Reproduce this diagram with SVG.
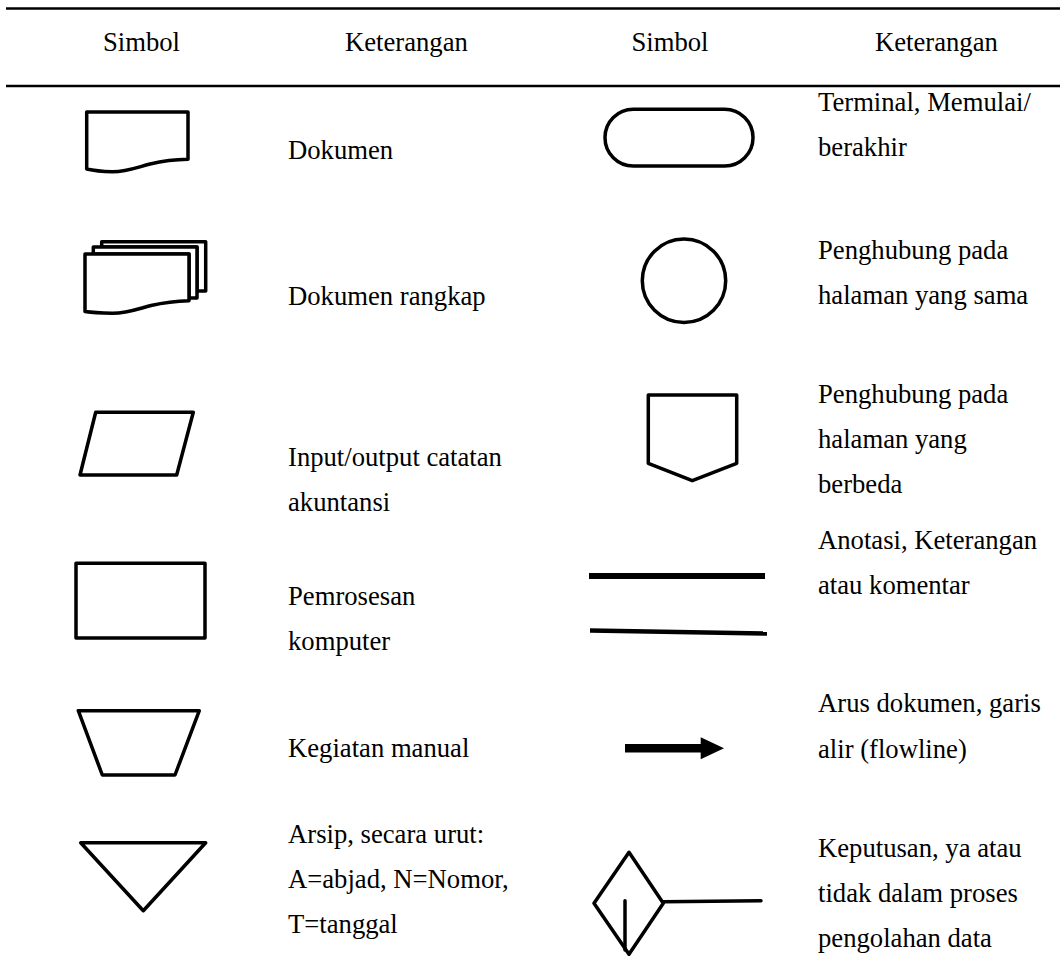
<svg xmlns="http://www.w3.org/2000/svg" width="1060" height="956" viewBox="0 0 1060 956">
<style>
text{font-family:"Liberation Serif","Times New Roman","DejaVu Serif",serif;font-size:26.67px;fill:#000}
.s{fill:#fff;stroke:#000;stroke-width:3.5;stroke-linejoin:round;stroke-linecap:round}
.l{fill:none;stroke:#000;stroke-width:3.5;stroke-linecap:round}
.rule{stroke:#000;stroke-width:2.5}
</style>
<rect width="1060" height="956" fill="#fff"/>
<g id="header" font-family="Liberation Serif, DejaVu Serif, serif">
<line class="rule" x1="6" y1="8.5" x2="1060" y2="8.5"/>
<line class="rule" x1="6" y1="86" x2="1060" y2="86"/>
<text x="141.5" y="50.5" text-anchor="middle">Simbol</text>
<text x="345" y="50.5">Keterangan</text>
<text x="670" y="50.5" text-anchor="middle">Simbol</text>
<text x="875" y="50.5">Keterangan</text>
</g>
<g id="dokumen">
<path class="s" d="M86.7,112 H188 V159.3 C175,159.5 165,160.5 150,164 C135,168 125,172 112,171.7 C100,171.5 93,170.5 86.7,169 Z"/>
<text x="288" y="159">Dokumen</text>
</g>
<g id="dokumen-rangkap">
<path class="s" d="M101.7,247 V241.7 H205.7 V291 H197 V247 Z"/>
<path class="s" d="M93.3,254 V247 H197 V298 H189 V254 Z"/>
<path class="s" d="M85,254 H189 V300.7 C176,301 166,302 151,305.5 C136,309.5 126,313.5 112,313.3 C100,313 92,312.5 85,311.5 Z"/>
<text x="288" y="305">Dokumen rangkap</text>
</g>
<g id="input-output">
<polygon class="s" points="95.7,412.3 193.3,412.3 176.7,475 80,475"/>
<text x="288" y="466">Input/output catatan</text>
<text x="288" y="511">akuntansi</text>
</g>
<g id="pemrosesan">
<rect class="s" x="76" y="563.3" width="129" height="74.7"/>
<text x="288" y="605">Pemrosesan</text>
<text x="288" y="650">komputer</text>
</g>
<g id="manual">
<polygon class="s" points="78.3,710.7 199.3,710.7 175,775 102.3,775"/>
<text x="288" y="757">Kegiatan manual</text>
</g>
<g id="arsip">
<polygon class="s" points="80.7,842.7 205.7,842.7 143.3,910.7"/>
<text x="288" y="843">Arsip, secara urut:</text>
<text x="288" y="888">A=abjad, N=Nomor,</text>
<text x="288" y="933">T=tanggal</text>
</g>
<g id="terminal">
<rect class="s" x="605" y="109.3" width="148" height="56.7" rx="28.3"/>
<text x="818" y="111">Terminal, Memulai/</text>
<text x="818" y="156">berakhir</text>
</g>
<g id="penghubung-sama">
<circle class="s" cx="684" cy="280.7" r="41.7"/>
<text x="818" y="259">Penghubung pada</text>
<text x="818" y="304">halaman yang sama</text>
</g>
<g id="penghubung-beda">
<polygon class="s" points="648.3,395 736.7,395 736.7,463.3 692.3,480.7 648.3,463.3"/>
<text x="818" y="403">Penghubung pada</text>
<text x="818" y="448">halaman yang</text>
<text x="818" y="493">berbeda</text>
</g>
<g id="anotasi">
<line x1="589" y1="576" x2="765" y2="576" stroke="#000" stroke-width="6"/>
<line x1="590" y1="630.5" x2="767" y2="633.5" stroke="#000" stroke-width="4.5"/>
<text x="818" y="549">Anotasi, Keterangan</text>
<text x="818" y="594">atau komentar</text>
</g>
<g id="arus">
<line x1="625" y1="748.3" x2="702" y2="748.3" stroke="#000" stroke-width="8.5"/>
<polygon points="700.7,737.3 724,748.3 700.7,759.3" fill="#000"/>
<text x="818" y="712">Arus dokumen, garis</text>
<text x="818" y="758">alir (flowline)</text>
</g>
<g id="keputusan">
<polygon class="s" points="629,852.3 663.3,903.3 629,954.3 594,903.3"/>
<line class="l" x1="663.3" y1="901.8" x2="761" y2="900.8"/>
<line class="l" x1="625" y1="900.7" x2="625" y2="950"/>
<text x="818" y="857">Keputusan, ya atau</text>
<text x="818" y="902">tidak dalam proses</text>
<text x="818" y="947">pengolahan data</text>
</g>
<g id="connectors"/>
</svg>
